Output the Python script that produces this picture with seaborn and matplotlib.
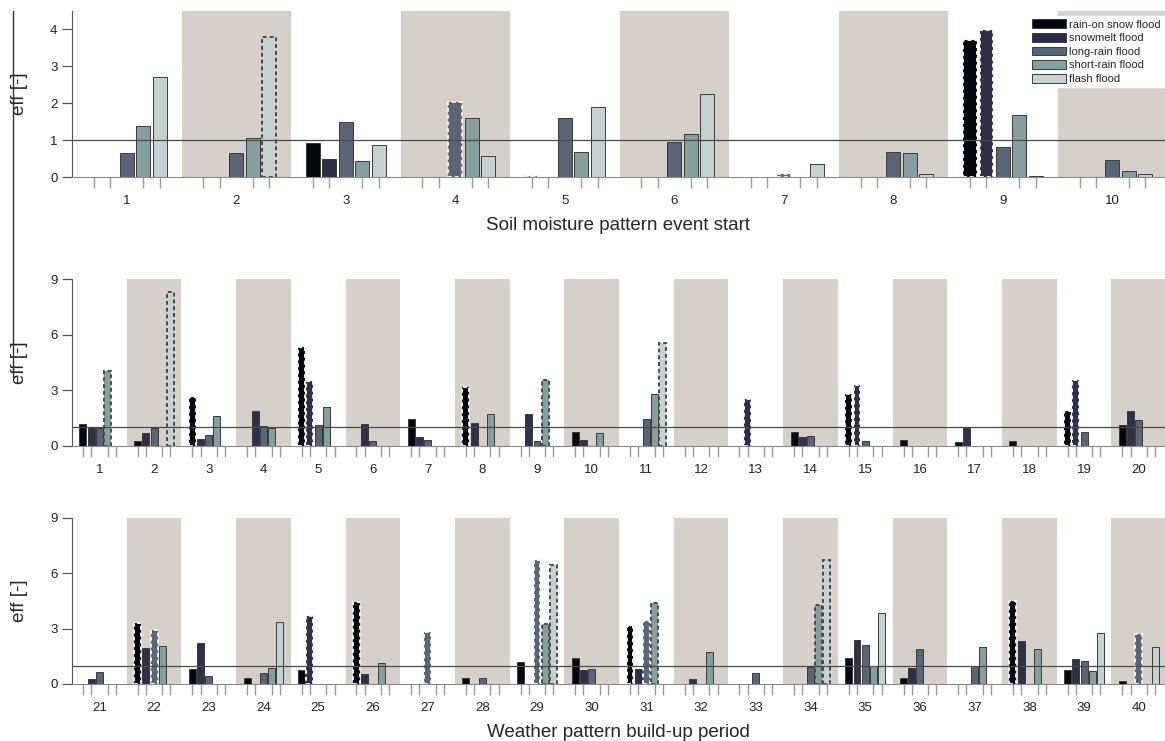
import matplotlib.pyplot as plt
import pandas as pd
import seaborn as sns
from matplotlib.lines import Line2D
from matplotlib.patches import Patch

flood_types = ['rain-on snow flood', 'snowmelt flood', 'long-rain flood',
               'short-rain flood', 'flash flood']
flood_colors = ['#05050f', '#2b2b4c', '#566679', '#80a3a1', '#c4d4d4']
band_color = '#d5d0c9'

# soil moisture pattern at event start (1-10)
sm_groups = list(range(1, 11))
sm_rain_on_snow = [0, 0, 0.92, 0, 0.04, 0, 0, 0, 3.71, 0]
sm_snowmelt = [0, 0, 0.50, 0, 0, 0, 0, 0, 3.98, 0]
sm_long_rain = [0.65, 0.65, 1.49, 2.03, 1.59, 0.94, 0.07, 0.69, 0.82, 0.47]
sm_short_rain = [1.37, 1.05, 0.43, 1.59, 0.69, 1.16, 0, 0.64, 1.68, 0.16]
sm_flash = [2.70, 3.80, 0.86, 0.57, 1.91, 2.24, 0.36, 0.09, 0.04, 0.09]
# (group, flood type index) of bars drawn with dotted outline
sm_significant = [(2, 4), (4, 2), (5, 0), (7, 2), (9, 0), (9, 1)]

# weather pattern build-up period 1-20
wp1_groups = list(range(1, 21))
wp1_rain_on_snow = [1.21, 0.25, 2.65, 0, 5.31, 0, 1.43, 3.19, 0, 0.78,
                    0, 0, 0, 0.74, 2.78, 0.31, 0.22, 0.25, 1.86, 1.14]
wp1_snowmelt = [0.97, 0.69, 0.38, 1.90, 3.52, 1.16, 0.47, 1.26, 1.70, 0.34,
                0, 0, 2.51, 0.49, 3.29, 0, 0.97, 0, 3.56, 1.88]
wp1_long_rain = [0.97, 0.97, 0.60, 1.06, 1.12, 0.27, 0.34, 0, 0.25, 0,
                 1.48, 0, 0, 0.54, 0.29, 0, 0, 0, 0.78, 1.39]
wp1_short_rain = [4.04, 0, 1.64, 0.99, 2.11, 0, 0, 1.75, 3.54, 0.72,
                  2.82, 0, 0, 0, 0, 0, 0, 0, 0, 0]
wp1_flash = [0, 8.30, 0, 0, 0, 0, 0, 0, 0, 0,
             5.54, 0, 0, 0, 0, 0, 0, 0, 0, 0]
wp1_significant = [(1, 3), (2, 4), (3, 0), (5, 0), (5, 1), (8, 0), (9, 3),
                   (11, 4), (13, 1), (15, 0), (15, 1), (19, 0), (19, 1)]

# weather pattern build-up period 21-40
wp2_groups = list(range(21, 41))
wp2_rain_on_snow = [0, 3.33, 0.83, 0.31, 0.76, 4.44, 0, 0.34, 1.18, 1.41,
                    3.14, 0, 0, 0, 1.43, 0.33, 0, 4.49, 0.74, 0.18]
wp2_snowmelt = [0.29, 1.97, 2.25, 0, 3.66, 0.54, 0, 0, 0, 0.76,
                0.83, 0.27, 0, 0, 2.39, 0.87, 0, 2.32, 1.36, 0]
wp2_long_rain = [0.65, 2.93, 0.42, 0.62, 0, 0, 2.84, 0.34, 6.72, 0.83,
                 3.42, 0, 0.62, 0.92, 2.12, 1.90, 0.99, 0, 1.25, 2.70]
wp2_short_rain = [0, 2.07, 0, 0.85, 0, 1.12, 0, 0, 3.26, 0,
                  4.39, 1.74, 0, 4.29, 0.99, 0, 2.03, 1.92, 0.69, 0]
wp2_flash = [0, 0, 0, 3.35, 0, 0, 0, 0, 6.45, 0,
             0, 0, 0, 6.70, 3.84, 0, 0, 0, 2.78, 2.00]
wp2_significant = [(22, 0), (22, 2), (25, 1), (26, 0), (27, 2), (29, 2),
                   (29, 3), (29, 4), (31, 0), (31, 2), (31, 3), (34, 3),
                   (34, 4), (38, 0), (40, 2)]

sns.set_style('ticks')
plt.rcParams['font.family'] = ['Liberation Sans', 'DejaVu Sans']


def make_frame(groups, series):
    rows = []
    for t, vals in zip(flood_types, series):
        for g, v in zip(groups, vals):
            rows.append({'group': str(g), 'type': t, 'eff': v})
    return pd.DataFrame(rows)


def panel(ax, groups, series, significant, yticks, ymax, xlabel=None):
    df = make_frame(groups, series)
    n = len(groups)
    sns.barplot(data=df, x='group', y='eff', hue='type',
                order=[str(g) for g in groups], hue_order=flood_types,
                palette=dict(zip(flood_types, flood_colors)),
                width=0.75, gap=0.15, errorbar=None, edgecolor='#3a3a3a',
                linewidth=0.7, legend=False, ax=ax, zorder=2)
    for k, cont in enumerate(ax.containers):
        for p in cont.patches:
            gi = int(round(p.get_x() + p.get_width() / 2))
            if (groups[gi], k) in significant:
                p.set_linestyle((0, (2, 1.5)))
                p.set_linewidth(1.4)
                p.set_edgecolor('#f2f2f2' if k < 3 else '#4a4a4a')
    for i in range(1, n, 2):
        ax.axvspan(i - 0.5, i + 0.5, color=band_color, lw=0, zorder=0)
    ax.axhline(1, color='#4a4a4a', lw=0.9, zorder=3)

    offsets = [-0.3, -0.15, 0, 0.15, 0.3]
    ax.set_xticks([i + o for i in range(n) for o in offsets], minor=True)
    ax.tick_params(axis='x', which='minor', length=8, width=1, color='#9a9a9a')
    ax.tick_params(axis='x', which='major', length=0, pad=13, labelsize=9.5,
                   labelcolor='#222222')
    ax.tick_params(axis='y', length=7, width=0.9, color='#555555',
                   labelsize=9.5, labelcolor='#222222')
    ax.set_yticks(yticks)
    ax.set_xlim(-0.5, n - 0.52)
    ax.set_ylim(0, ymax)
    ax.set_facecolor('white')
    sns.despine(ax=ax)
    ax.spines['bottom'].set_color('#8a8a8a')
    ax.spines['left'].set_color('#555555')
    ax.set_ylabel('eff [-]', fontsize=13.5)
    ax.yaxis.set_label_coords(-0.04, 0.5)
    if xlabel:
        ax.set_xlabel(xlabel, fontsize=13.5, labelpad=7)
    else:
        ax.set_xlabel('')


fig = plt.figure(figsize=(11.65, 7.41), dpi=100)
W, H = 1165, 741
left = 72 / W
ax1 = fig.add_axes([left, 1 - 177 / H, 1 - left, 166 / H])
ax2 = fig.add_axes([left, 1 - 446 / H, 1 - left, 167 / H])
ax3 = fig.add_axes([left, 1 - 684 / H, 1 - left, 166 / H])

panel(ax1, sm_groups,
      [sm_rain_on_snow, sm_snowmelt, sm_long_rain, sm_short_rain, sm_flash],
      sm_significant, [0, 1, 2, 3, 4], 4.5,
      'Soil moisture pattern event start')
panel(ax2, wp1_groups,
      [wp1_rain_on_snow, wp1_snowmelt, wp1_long_rain, wp1_short_rain, wp1_flash],
      wp1_significant, [0, 3, 6, 9], 9)
panel(ax3, wp2_groups,
      [wp2_rain_on_snow, wp2_snowmelt, wp2_long_rain, wp2_short_rain, wp2_flash],
      wp2_significant, [0, 3, 6, 9], 9,
      'Weather pattern build-up period')

handles = [Patch(facecolor=c, edgecolor='#3a3a3a', linewidth=0.7, label=t)
           for t, c in zip(flood_types, flood_colors)]
leg = ax1.legend(handles=handles, loc='upper right', bbox_to_anchor=(0.999, 0.97),
                 fontsize=8, frameon=True, fancybox=False, framealpha=1,
                 edgecolor='white', handlelength=3.0, handleheight=0.85,
                 labelspacing=0.3, handletextpad=0.3, borderpad=0.3,
                 borderaxespad=0)
leg.set_zorder(5)

# stray frame line on the left edge of the original figure
fig.add_artist(Line2D([13 / W, 13 / W], [1 - 11 / H, 1 - 377 / H],
                      color='#333333', lw=1))

fig.savefig('out.png', dpi=100)
